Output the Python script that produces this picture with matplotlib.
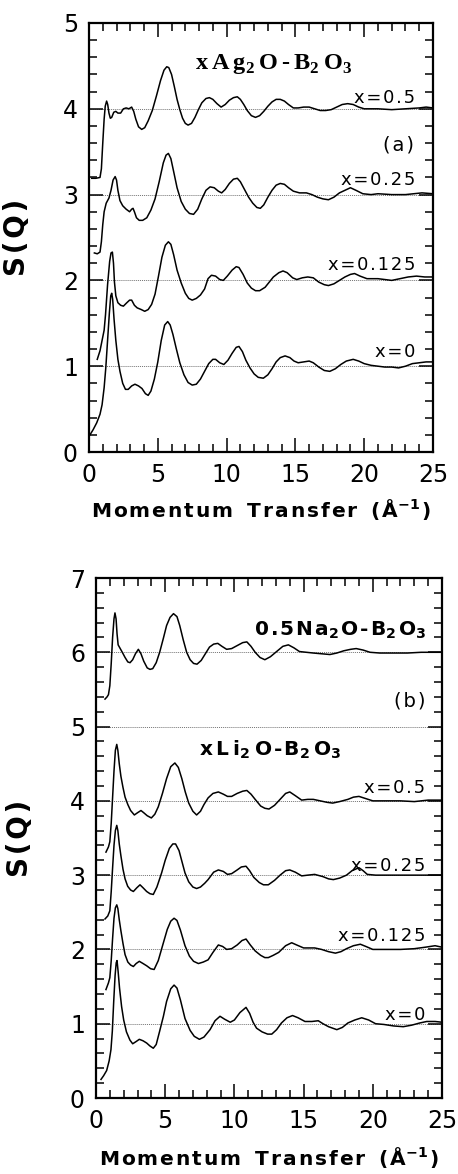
import matplotlib
matplotlib.use("Agg")
import matplotlib.pyplot as plt
from matplotlib.ticker import MultipleLocator

# ---------------- data ----------------
# Panel (a): xAg2O-B2O3
ag05_q = [0.2, 0.5, 0.8, 0.9, 1.0, 1.1, 1.18, 1.28, 1.36, 1.45, 1.55, 1.65, 1.8, 1.95, 2.1, 2.3, 2.5, 2.7, 2.9, 3.1,
          3.25, 3.4, 3.6, 3.83, 4.05, 4.3, 4.6, 4.9, 5.2, 5.45, 5.65, 5.8, 6.0, 6.2, 6.4, 6.6, 6.8, 7.0, 7.2, 7.45,
          7.7, 7.95, 8.2, 8.5, 8.75, 9.0, 9.3, 9.6, 9.9, 10.2, 10.5, 10.78, 11.0, 11.25, 11.5, 11.8, 12.1, 12.4,
          12.7, 13.0, 13.3, 13.6, 13.9, 14.2, 14.5, 14.85, 15.2, 15.6, 16.0, 16.4, 16.8, 17.2, 17.6, 18.0, 18.4,
          18.8, 19.2, 19.6, 20.0, 20.5, 21, 22, 23, 24, 24.5, 25]
ag05_s = [3.19, 3.19, 3.2, 3.3, 3.6, 3.88, 4.03, 4.09, 4.05, 3.95, 3.89, 3.9, 3.96, 3.97, 3.95, 3.95, 4.0, 4.01, 4.0,
          4.02, 3.97, 3.88, 3.79, 3.76, 3.78, 3.86, 3.98, 4.15, 4.33, 4.45, 4.49, 4.48, 4.4, 4.26, 4.11, 3.99, 3.89,
          3.83, 3.81, 3.83, 3.9, 3.99, 4.07, 4.12, 4.13, 4.11, 4.06, 4.02, 4.05, 4.1, 4.13, 4.14, 4.11, 4.05, 3.98,
          3.92, 3.9, 3.92, 3.97, 4.03, 4.08, 4.11, 4.11, 4.09, 4.05, 4.01, 4.01, 4.02, 4.02, 4.0, 3.98, 3.98, 3.99,
          4.02, 4.05, 4.06, 4.05, 4.02, 4.0, 4.0, 4.0, 3.99, 4.0, 4.01, 4.02, 4.01]

ag025_q = [0.39, 0.6, 0.8, 0.9, 1.0, 1.1, 1.25, 1.45, 1.6, 1.75, 1.9, 2.0, 2.1, 2.25, 2.45, 2.7, 2.95, 3.1, 3.2, 3.3,
           3.45, 3.65, 3.9, 4.2, 4.5, 4.8, 5.1, 5.4, 5.6, 5.77, 5.95, 6.15, 6.4, 6.7, 7.0, 7.3, 7.6, 7.9, 8.2, 8.5,
           8.8, 9.1, 9.4, 9.64, 9.9, 10.2, 10.5, 10.78, 11.0, 11.3, 11.6, 11.9, 12.2, 12.45, 12.7, 13.0, 13.3,
           13.6, 13.9, 14.2, 14.5, 14.85, 15.3, 15.8, 16.2, 16.6, 17.0, 17.4, 17.8, 18.2, 18.6, 19.0, 19.4, 19.9,
           20.5, 21, 22, 23, 23.6, 24.2, 25]
ag025_s = [2.32, 2.31, 2.33, 2.45, 2.65, 2.8, 2.9, 2.96, 3.05, 3.17, 3.21, 3.17, 3.05, 2.93, 2.87, 2.83, 2.8, 2.83,
           2.84, 2.8, 2.73, 2.70, 2.70, 2.73, 2.82, 2.95, 3.15, 3.37, 3.46, 3.48, 3.42, 3.27, 3.08, 2.92, 2.83,
           2.78, 2.77, 2.83, 2.95, 3.05, 3.09, 3.08, 3.04, 3.02, 3.06, 3.13, 3.18, 3.19, 3.15, 3.06, 2.97, 2.9,
           2.85, 2.84, 2.88, 2.97, 3.05, 3.11, 3.13, 3.12, 3.08, 3.04, 3.02, 3.02, 3.0, 2.97, 2.95, 2.94, 2.97,
           3.02, 3.05, 3.08, 3.05, 3.01, 3.0, 3.01, 3.0, 3.0, 3.01, 3.02, 3.01]

ag0125_q = [0.6, 0.8, 0.95, 1.1, 1.2, 1.35, 1.5, 1.6, 1.7, 1.78, 1.85, 1.95, 2.1, 2.3, 2.5, 2.75, 2.95, 3.1, 3.3,
            3.5, 3.8, 4.05, 4.3, 4.55, 4.8, 5.05, 5.3, 5.55, 5.77, 5.95, 6.15, 6.4, 6.7, 7.0, 7.25, 7.5, 7.8, 8.1,
            8.4, 8.65, 8.9, 9.2, 9.5, 9.76, 10.05, 10.4, 10.7, 10.9, 11.2, 11.5, 11.8, 12.1, 12.4, 12.8, 13.1,
            13.4, 13.8, 14.1, 14.4, 14.8, 15.1, 15.5, 15.9, 16.3, 16.7, 17.1, 17.4, 17.8, 18.2, 18.6, 19.0, 19.3,
            19.7, 20.2, 21, 22, 22.6, 23.2, 23.8, 24.4, 25]
ag0125_s = [1.08, 1.18, 1.3, 1.42, 1.6, 1.95, 2.22, 2.32, 2.33, 2.2, 1.98, 1.82, 1.74, 1.71, 1.70, 1.74, 1.77,
            1.77, 1.71, 1.68, 1.66, 1.64, 1.66, 1.72, 1.84, 2.05, 2.27, 2.41, 2.45, 2.42, 2.3, 2.12, 1.97, 1.85,
            1.79, 1.77, 1.79, 1.83, 1.9, 2.02, 2.06, 2.05, 2.01, 2.0, 2.05, 2.12, 2.16, 2.15, 2.07, 1.97, 1.91,
            1.88, 1.88, 1.92, 1.98, 2.04, 2.09, 2.11, 2.09, 2.03, 2.01, 2.03, 2.04, 2.03, 1.98, 1.95, 1.94, 1.96,
            2.0, 2.04, 2.07, 2.08, 2.05, 2.02, 2.02, 2.0, 2.02, 2.04, 2.05, 2.04, 2.04]

ag0_q = [0.07, 0.3, 0.56, 0.8, 0.95, 1.1, 1.22, 1.35, 1.48, 1.58, 1.65, 1.72, 1.82, 1.95, 2.1, 2.25, 2.45, 2.65,
         2.85, 3.1, 3.34, 3.6, 3.85, 4.1, 4.3, 4.5, 4.75, 5.0, 5.25, 5.5, 5.72, 5.9, 6.1, 6.35, 6.6, 6.9, 7.2, 7.5,
         7.8, 8.1, 8.4, 8.7, 9.0, 9.2, 9.5, 9.8, 10.1, 10.4, 10.7, 10.9, 11.15, 11.4, 11.7, 12.0, 12.3, 12.67,
         13.0, 13.3, 13.6, 13.9, 14.25, 14.6, 14.9, 15.2, 15.6, 16.0, 16.3, 16.7, 17.1, 17.5, 17.9, 18.3, 18.7,
         19.2, 19.6, 20.0, 20.5, 21.0, 21.5, 22.0, 22.5, 23.0, 23.5, 24.0, 24.5, 25]
ag0_s = [0.2, 0.26, 0.34, 0.44, 0.55, 0.75, 0.98, 1.3, 1.62, 1.82, 1.85, 1.78, 1.55, 1.3, 1.08, 0.94, 0.8, 0.73,
         0.73, 0.77, 0.79, 0.77, 0.74, 0.68, 0.66, 0.71, 0.85, 1.05, 1.3, 1.48, 1.52, 1.48, 1.37, 1.2, 1.04, 0.9,
         0.81, 0.78, 0.79, 0.85, 0.94, 1.03, 1.08, 1.08, 1.04, 1.02, 1.07, 1.15, 1.22, 1.23, 1.17, 1.07, 0.98,
         0.91, 0.87, 0.86, 0.9, 0.97, 1.05, 1.1, 1.12, 1.1, 1.06, 1.04, 1.05, 1.06, 1.04, 0.99, 0.95, 0.94, 0.97,
         1.02, 1.06, 1.08, 1.06, 1.03, 1.01, 1.0, 0.99, 0.99, 0.98, 1.0, 1.03, 1.04, 1.05, 1.05]

# Panel (b): 0.5Na2O-B2O3 and xLi2O-B2O3
na_q = [0.65, 0.8, 0.9, 1.0, 1.1, 1.2, 1.3, 1.37, 1.45, 1.52, 1.6, 1.75, 1.9, 2.1, 2.3, 2.46, 2.65, 2.85, 3.06,
        3.25, 3.45, 3.7, 3.9, 4.1, 4.35, 4.6, 4.87, 5.1, 5.35, 5.6, 5.85, 6.05, 6.3, 6.55, 6.8, 7.05, 7.3, 7.6,
        7.9, 8.2, 8.5, 8.8, 9.1, 9.44, 9.8, 10.2, 10.6, 10.9, 11.2, 11.5, 11.85, 12.2, 12.6, 13.05, 13.5, 13.9,
        14.3, 14.7, 15.2, 15.7, 16.3, 16.9, 17.4, 17.9, 18.4, 18.8, 19.3, 19.8, 20.5, 21.5, 22.5, 23.5, 24.5, 25]
na_s = [5.37, 5.4, 5.43, 5.55, 5.85, 6.2, 6.45, 6.53, 6.45, 6.25, 6.1, 6.05, 6.0, 5.93, 5.87, 5.86, 5.9, 5.98,
        6.04, 5.98, 5.88, 5.79, 5.77, 5.78, 5.86, 6.0, 6.19, 6.36, 6.47, 6.52, 6.48, 6.36, 6.17, 6.0, 5.9, 5.85,
        5.84, 5.89, 5.98, 6.07, 6.11, 6.12, 6.08, 6.04, 6.05, 6.09, 6.13, 6.14, 6.08, 6.0, 5.93, 5.9, 5.94, 6.01,
        6.08, 6.1, 6.06, 6.01, 6.0, 5.99, 5.98, 5.97, 5.99, 6.02, 6.04, 6.05, 6.03, 6.0, 5.99, 5.99, 5.99, 6.0,
        6.0, 6.0]

li05_q = [0.72, 0.9, 1.0, 1.1, 1.2, 1.3, 1.4, 1.5, 1.58, 1.68, 1.8, 1.95, 2.1, 2.3, 2.5, 2.77, 3.0, 3.25, 3.45,
          3.7, 4.0, 4.25, 4.5, 4.8, 5.1, 5.4, 5.7, 5.95, 6.2, 6.45, 6.7, 7.0, 7.27, 7.55, 7.8, 8.1, 8.45, 8.84,
          9.2, 9.5, 9.8, 10.2, 10.6, 10.9, 11.2, 11.5, 11.9, 12.2, 12.5, 12.9, 13.3, 13.7, 14.0, 14.4, 14.86,
          15.3, 15.7, 16.2, 16.7, 17.1, 17.6, 18.2, 18.6, 19.0, 19.5, 20.0, 21.0, 22.0, 23.0, 24.0, 25]
li05_s = [3.31, 3.38, 3.45, 3.7, 4.05, 4.4, 4.68, 4.76, 4.68, 4.5, 4.33, 4.18, 4.05, 3.95, 3.87, 3.81, 3.84,
          3.87, 3.84, 3.8, 3.77, 3.82, 3.92, 4.1, 4.3, 4.46, 4.51, 4.45, 4.3, 4.12, 3.97, 3.86, 3.81, 3.86, 3.95,
          4.04, 4.1, 4.12, 4.09, 4.06, 4.06, 4.1, 4.13, 4.14, 4.09, 4.02, 3.93, 3.9, 3.89, 3.94, 4.02, 4.1, 4.12,
          4.07, 4.01, 4.02, 4.02, 4.0, 3.98, 3.97, 3.99, 4.02, 4.05, 4.06, 4.03, 4.0, 4.0, 4.0, 3.99, 4.01, 4.01]

li025_q = [0.65, 0.85, 1.0, 1.1, 1.2, 1.3, 1.4, 1.5, 1.58, 1.68, 1.8, 1.95, 2.1, 2.29, 2.5, 2.7, 2.95, 3.18, 3.4,
           3.66, 3.9, 4.14, 4.4, 4.74, 5.0, 5.3, 5.55, 5.75, 6.0, 6.2, 6.43, 6.7, 7.0, 7.27, 7.55, 7.85, 8.1, 8.5,
           8.84, 9.2, 9.5, 9.8, 10.2, 10.5, 10.84, 11.1, 11.4, 11.8, 12.1, 12.45, 12.9, 13.3, 13.7, 14.0, 14.4,
           14.86, 15.3, 15.8, 16.4, 16.8, 17.15, 17.6, 18.1, 18.5, 19.0, 19.3, 19.6, 20.2, 21, 22, 23, 24, 25]
li025_s = [2.41, 2.45, 2.52, 2.78, 3.1, 3.4, 3.6, 3.67, 3.6, 3.42, 3.26, 3.08, 2.95, 2.85, 2.8, 2.78, 2.83, 2.87,
           2.83, 2.78, 2.75, 2.74, 2.84, 3.03, 3.2, 3.36, 3.42, 3.42, 3.33, 3.19, 3.03, 2.91, 2.84, 2.82, 2.84,
           2.89, 2.94, 3.04, 3.07, 3.05, 3.01, 3.02, 3.07, 3.11, 3.12, 3.06, 2.97, 2.9, 2.87, 2.87, 2.93, 3.0,
           3.06, 3.07, 3.04, 2.99, 3.0, 3.01, 2.98, 2.95, 2.94, 2.96, 3.0, 3.06, 3.1, 3.06, 3.01, 3.0, 3.0, 3.0,
           3.0, 3.0, 3.0]

li0125_q = [0.72, 0.9, 1.0, 1.1, 1.2, 1.3, 1.4, 1.5, 1.58, 1.68, 1.8, 1.95, 2.1, 2.3, 2.5, 2.7, 2.9, 3.13, 3.4,
            3.66, 3.95, 4.2, 4.5, 4.87, 5.15, 5.4, 5.64, 5.85, 6.1, 6.43, 6.75, 7.05, 7.4, 7.75, 8.1, 8.45, 8.84,
            9.15, 9.44, 9.8, 10.2, 10.55, 10.84, 11.15, 11.5, 11.9, 12.2, 12.45, 12.8, 13.2, 13.7, 14.14, 14.5,
            15.0, 15.4, 15.8, 16.3, 16.8, 17.3, 17.7, 18.1, 18.6, 19.1, 19.5, 20.0, 21.0, 22.0, 23.0, 23.8, 24.5,
            25]
li0125_s = [1.46, 1.55, 1.62, 1.85, 2.15, 2.42, 2.56, 2.6, 2.55, 2.4, 2.25, 2.08, 1.93, 1.83, 1.79, 1.77, 1.81,
            1.84, 1.81, 1.78, 1.74, 1.73, 1.85, 2.09, 2.27, 2.38, 2.42, 2.39, 2.26, 2.05, 1.91, 1.84, 1.81, 1.83,
            1.86, 1.96, 2.06, 2.04, 2.0, 2.01, 2.06, 2.12, 2.14, 2.06, 1.98, 1.92, 1.89, 1.89, 1.92, 1.96, 2.05,
            2.09, 2.06, 2.02, 2.02, 2.02, 2.0, 1.97, 1.95, 1.97, 2.01, 2.05, 2.07, 2.04, 2.0, 2.0, 2.0, 2.01, 2.03,
            2.05, 2.03]

li0_q = [0.36, 0.55, 0.77, 0.95, 1.08, 1.18, 1.28, 1.38, 1.46, 1.52, 1.6, 1.7, 1.85, 2.0, 2.2, 2.45, 2.65, 2.9,
         3.13, 3.4, 3.66, 3.9, 4.14, 4.35, 4.6, 4.87, 5.1, 5.4, 5.64, 5.85, 6.1, 6.43, 6.8, 7.1, 7.47, 7.8, 8.24,
         8.6, 8.96, 9.3, 9.7, 10.0, 10.4, 10.84, 11.1, 11.35, 11.6, 12.0, 12.4, 12.7, 13.05, 13.4, 13.8, 14.2,
         14.6, 15.1, 15.6, 16.06, 16.4, 16.8, 17.4, 17.8, 18.2, 18.7, 19.2, 19.7, 20.2, 20.8, 21.5, 22.2, 22.8,
         23.4, 23.9, 24.5, 25]
li0_s = [0.25, 0.3, 0.37, 0.5, 0.65, 0.9, 1.3, 1.65, 1.82, 1.85, 1.7, 1.48, 1.23, 1.05, 0.89, 0.78, 0.73, 0.76,
         0.79, 0.77, 0.74, 0.7, 0.67, 0.72, 0.9, 1.1, 1.3, 1.47, 1.52, 1.48, 1.32, 1.07, 0.91, 0.83, 0.79, 0.82,
         0.92, 1.04, 1.1, 1.06, 1.02, 1.05, 1.15, 1.22, 1.14, 1.02, 0.94, 0.89, 0.86, 0.86, 0.92, 1.01, 1.08,
         1.11, 1.08, 1.03, 1.03, 1.04, 1.0, 0.96, 0.92, 0.95, 1.01, 1.05, 1.08, 1.05, 1.0, 0.99, 0.97, 0.96,
         0.98, 1.01, 1.03, 1.03, 1.02]

labels_a = ["x=0.5", "x=0.25", "x=0.125", "x=0"]
label_y_a = [4.13, 3.17, 2.18, 1.17]
refs_a = [1, 2, 3, 4]
labels_b = ["x=0.5", "x=0.25", "x=0.125", "x=0"]
label_y_b = [4.17, 3.12, 2.18, 1.12]
refs_b = [1, 2, 3, 4, 5, 6]

# ---------------- figure ----------------
plt.rcParams['font.family'] = ['DejaVu Sans']
fig = plt.figure(figsize=(4.58, 11.74), dpi=100)
W, H = 458, 1174
axa = fig.add_axes([89 / W, 1 - 452 / H, 344 / W, 429 / H])
axb = fig.add_axes([96 / W, 1 - 1098 / H, 346 / W, 520 / H])

LW = 1.1
HS = '\u200a'  # hair space for letter spacing


def spaced(txt):
    return HS.join(txt)


def style(ax, ymax, ylab_x, xlab_y):
    ax.set_xlim(0, 25)
    ax.set_ylim(0, ymax)
    ax.xaxis.set_major_locator(MultipleLocator(5))
    ax.xaxis.set_minor_locator(MultipleLocator(1))
    ax.yaxis.set_major_locator(MultipleLocator(1))
    ax.yaxis.set_minor_locator(MultipleLocator(0.2))
    ax.tick_params(which='both', direction='in', top=True, right=True, width=1.1, color='black')
    ax.tick_params(which='major', length=10, labelsize=17, pad=8)
    ax.tick_params(which='minor', length=6)
    for sp in ax.spines.values():
        sp.set_linewidth(1.6)
    ax.set_ylabel(spaced('S(Q)'), fontsize=20, fontweight='bold')
    ax.yaxis.set_label_coords(ylab_x, 0.5)
    ax.set_xlabel(spaced('Momentum') + '  ' + spaced('Transfer') + '  ' + spaced('(Å') +
                  r'$^{\mathregular{-1}}$' + HS + ')', fontsize=14.5, fontweight='bold')
    ax.xaxis.label.set_va('center')
    ax.xaxis.set_label_coords(0.5, xlab_y)


style(axa, 5, -0.17, -0.135)
style(axb, 7, -0.18, -0.115)

for r in refs_a:
    axa.axhline(r, ls=(0, (1, 1)), color='0.45', lw=0.7, zorder=1)
for r in refs_b:
    axb.axhline(r, ls=(0, (1, 1)), color='0.45', lw=0.7, zorder=1)

for q, s in [(ag05_q, ag05_s), (ag025_q, ag025_s), (ag0125_q, ag0125_s), (ag0_q, ag0_s)]:
    axa.plot(q, s, color='black', lw=LW, zorder=3, solid_joinstyle='round')
for q, s in [(na_q, na_s), (li05_q, li05_s), (li025_q, li025_s), (li0125_q, li0125_s), (li0_q, li0_s)]:
    axb.plot(q, s, color='black', lw=LW, zorder=3, solid_joinstyle='round')

for t, y in zip(labels_a, label_y_a):
    axa.text(23.7, y, spaced(t), ha='right', va='center', fontsize=13, zorder=4)
for t, y in zip(labels_b, label_y_b):
    axb.text(23.8, y, spaced(t), ha='right', va='center', fontsize=13, zorder=4)

axa.text(23.6, 3.58, spaced('(a)'), ha='right', va='center', fontsize=14)
axb.text(23.8, 5.35, spaced('(b)'), ha='right', va='center', fontsize=14)

sub2 = r'$_{\mathregular{2}}$'
sub3 = r'$_{\mathregular{3}}$'
H2 = HS + HS
axa.text(13.4, 4.52, 'x' + H2 + 'A' + H2 + 'g' + sub2 + H2 + 'O' + H2 + '-' + H2 + 'B' + sub2 + H2 + 'O' + sub3,
         ha='center', va='center', fontsize=17.5, fontweight='bold',
         family=['Liberation Serif', 'DejaVu Serif'])
axb.text(17.6, 6.3, '0' + HS + '.' + HS + '5' + HS + 'N' + HS + 'a' + sub2 + HS + 'O' + HS + '-' + HS + 'B' + sub2
         + HS + 'O' + sub3, ha='center', va='center', fontsize=14.5, fontweight='semibold')
axb.text(12.6, 4.68, 'x' + H2 + 'L' + H2 + 'i' + sub2 + H2 + 'O' + HS + '-' + HS + 'B' + sub2 + H2 + 'O' + sub3,
         ha='center', va='center', fontsize=14.5, fontweight='semibold')

fig.savefig('out.png', dpi=100)
